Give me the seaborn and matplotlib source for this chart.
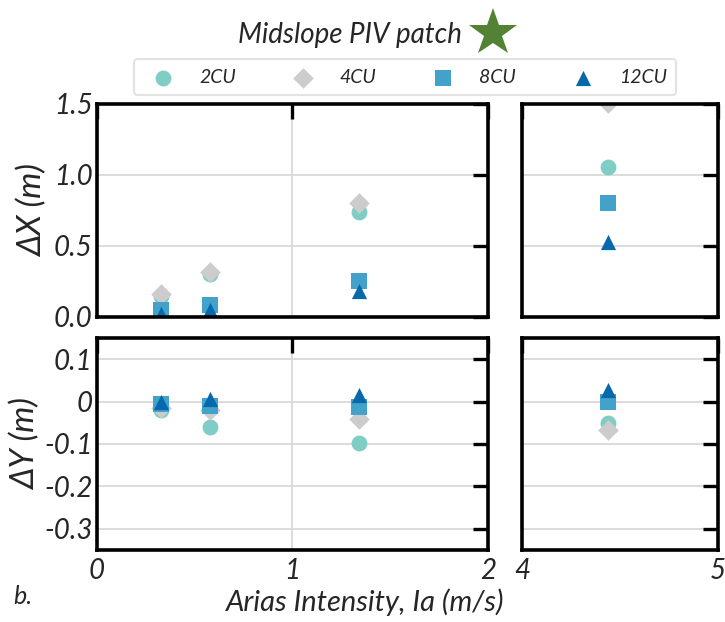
"""Midslope PIV patch: displacement vs Arias intensity (broken x axis)."""
import pandas as pd
import matplotlib
matplotlib.use('Agg')
import matplotlib.pyplot as plt
from matplotlib.lines import Line2D
import seaborn as sns

# data
series = ['2CU', '4CU', '8CU', '12CU']
arias = [0.325, 0.578, 1.339, 4.437]
dx_2cu = [0.15, 0.30, 0.74, 1.054]
dx_4cu = [0.162, 0.315, 0.80, 1.51]
dx_8cu = [0.05, 0.085, 0.255, 0.80]
dx_12cu = [0.02, 0.05, 0.18, 0.53]
dy_2cu = [-0.02, -0.059, -0.098, -0.05]
dy_4cu = [-0.015, -0.02, -0.04, -0.068]
dy_8cu = [-0.005, -0.01, -0.013, -0.002]
dy_12cu = [0.0, 0.005, 0.016, 0.027]

colors = {'2CU': '#7fcdc4', '4CU': '#cccccc', '8CU': '#43a2ca', '12CU': '#0868ac'}
markers = {'2CU': 'o', '4CU': 'D', '8CU': 's', '12CU': '^'}
sizes = {'2CU': 130, '4CU': 110, '8CU': 120, '12CU': 120}

dx = {'2CU': dx_2cu, '4CU': dx_4cu, '8CU': dx_8cu, '12CU': dx_12cu}
dy = {'2CU': dy_2cu, '4CU': dy_4cu, '8CU': dy_8cu, '12CU': dy_12cu}
rows = []
for s in series:
    for i, a in enumerate(arias):
        rows.append({'Ia': a, 'dX': dx[s][i], 'dY': dy[s][i], 'case': s})
df = pd.DataFrame(rows)

sns.set_style('white')
plt.rcParams['font.family'] = ['Lato', 'DejaVu Sans']
plt.rcParams['font.style'] = 'italic'

fig = plt.figure(figsize=(7.25, 6.22), dpi=100)
ax_tl = fig.add_axes([0.1338, 0.4904, 0.539, 0.3424])
ax_tr = fig.add_axes([0.72, 0.4904, 0.2703, 0.3424])
ax_bl = fig.add_axes([0.1338, 0.1158, 0.539, 0.3408])
ax_br = fig.add_axes([0.72, 0.1158, 0.2703, 0.3408])


def draw(ax, ycol):
    for s in series:
        sub = df[df['case'] == s]
        sns.scatterplot(data=sub, x='Ia', y=ycol, ax=ax, color=colors[s],
                        marker=markers[s], s=sizes[s], linewidth=0,
                        label=s, legend=False, clip_on=True, zorder=3)
    ax.set_xlabel('')
    ax.set_ylabel('')
    ax.grid(True, color='#d9d9d9', linewidth=1.3, zorder=4)
    ax.set_axisbelow(False)
    for sp in ax.spines.values():
        sp.set_linewidth(2.6)
        sp.set_color('black')
        sp.set_zorder(5)
    ax.tick_params(direction='in', length=11, width=2.4, top=True, right=True,
                   labelsize=20, color='black', pad=3)


for ax, col in [(ax_tl, 'dX'), (ax_tr, 'dX'), (ax_bl, 'dY'), (ax_br, 'dY')]:
    draw(ax, col)

for ax in (ax_tl, ax_bl):
    ax.set_xlim(0, 2)
    ax.set_xticks([0, 1, 2])
for ax in (ax_tr, ax_br):
    ax.set_xlim(4, 5)
    ax.set_xticks([4, 5])

for ax in (ax_tl, ax_tr):
    ax.set_ylim(0, 1.5)
    ax.set_yticks([0, 0.5, 1.0, 1.5])
    ax.set_xticklabels([])
ax_tl.set_yticklabels(['0.0', '0.5', '1.0', '1.5'])
ax_tr.set_yticklabels([])

for ax in (ax_bl, ax_br):
    ax.set_ylim(-0.35, 0.15)
    ax.set_yticks([0.1, 0, -0.1, -0.2, -0.3])
ax_bl.set_yticklabels(['0.1', '0', '-0.1', '-0.2', '-0.3'])
ax_br.set_yticklabels([])
ax_bl.set_xticklabels(['0', '1', '2'])
ax_br.set_xticklabels(['4', '5'])
for ax in (ax_bl, ax_br):
    ax.tick_params(axis='x', pad=6)

ax_tl.set_ylabel('ΔX (m)', fontsize=24, labelpad=4)
ax_bl.set_ylabel('ΔY (m)', fontsize=24, labelpad=2)
fig.text(0.504, 0.01, 'Arias Intensity, Ia (m/s)', ha='center', va='bottom', fontsize=21)
fig.text(0.018, 0.022, 'b.', ha='left', va='bottom', fontsize=18)

# title with green star
fig.text(0.483, 0.944, 'Midslope PIV patch', ha='center', va='center', fontsize=20)
fig.add_artist(Line2D([0.68], [0.947], marker='*', markersize=36, color='#548235',
                      markeredgewidth=0, transform=fig.transFigure))

handles, labels = ax_tl.get_legend_handles_labels()
leg = fig.legend(handles, labels, loc='center', bbox_to_anchor=(0.559, 0.876), ncol=4,
                 frameon=True, fontsize=14, handletextpad=0.85, columnspacing=2.45,
                 borderpad=0.5, fancybox=True, edgecolor='#dddddd')
leg.get_frame().set_linewidth(1.5)

fig.savefig('out.png', dpi=100)
